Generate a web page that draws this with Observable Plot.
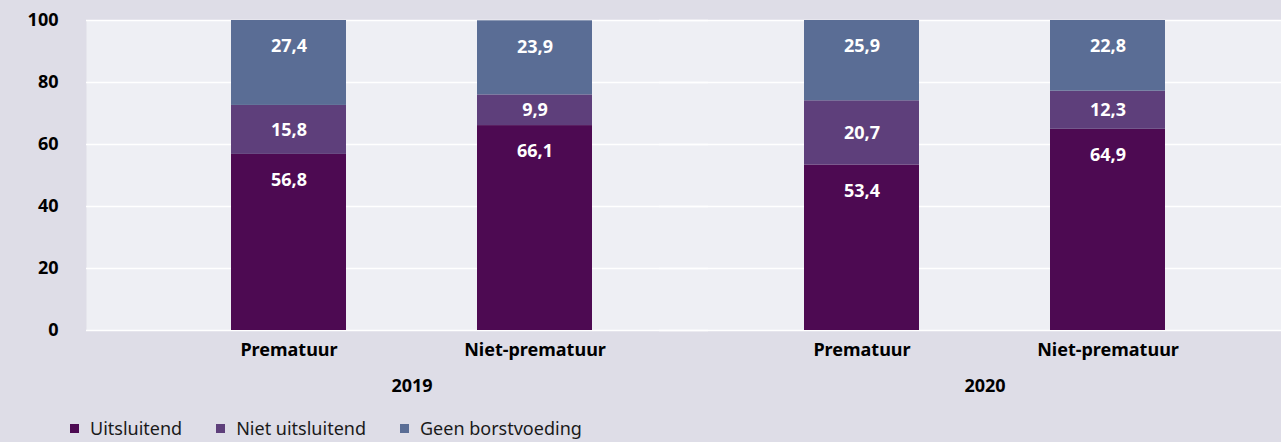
<!DOCTYPE html>
<html>
<head>
<meta charset="utf-8">
<script src="https://cdn.jsdelivr.net/npm/d3@7"></script>
<script src="https://cdn.jsdelivr.net/npm/@observablehq/plot@0.6"></script>
<style>
  html, body { margin: 0; padding: 0; background: #dedde7; }
  body { width: 1281px; height: 442px; overflow: hidden; font-family: "Noto Sans", sans-serif; }
  #legend { display: flex; align-items: center; height: 28px; padding-top: 2px; padding-left: 70px; font-size: 18px; line-height: 22px; color: #1a1a1a; box-sizing: content-box; }
  #legend .item { display: flex; align-items: center; margin-right: 34px; }
  #legend .sw { width: 9px; height: 9px; margin-right: 11px; }
</style>
</head>
<body>
<div id="chart"></div>
<div id="legend"></div>
<script>
const years = ["2019", "2020"];
const categories = ["Prematuur", "Niet-prematuur"];
const series = ["Uitsluitend", "Niet uitsluitend", "Geen borstvoeding"];
const colors = ["#4d0a52", "#5e3f7b", "#5a6d95"];
// order: 2019 Prematuur, 2019 Niet-prematuur, 2020 Prematuur, 2020 Niet-prematuur
const uitsluitend = [56.8, 66.1, 53.4, 64.9];
const nietUitsluitend = [15.8, 9.9, 20.7, 12.3];
const geenBorstvoeding = [27.4, 23.9, 25.9, 22.8];
const yTicks = [0, 20, 40, 60, 80, 100];

const seriesValues = [uitsluitend, nietUitsluitend, geenBorstvoeding];
const groups = years.flatMap(y => categories.map(c => ({year: y, cat: c})));
const data = [];
series.forEach((s, si) => {
  groups.forEach((g, gi) => data.push({year: g.year, cat: g.cat, series: s, value: seriesValues[si][gi]}));
});
const fmt = v => v.toFixed(1).replace(".", ",");
const isMid = d => d.series === "Niet uitsluitend";

const chart = Plot.plot({
  width: 1281,
  height: 412,
  marginTop: 20,
  marginBottom: 82,
  marginLeft: 84,
  marginRight: 0,
  style: {fontFamily: "Noto Sans, sans-serif", background: "transparent", overflow: "visible"},
  fx: {domain: years, paddingInner: 0, paddingOuter: 0.0427, align: 0.796, axis: null, label: null},
  x: {domain: categories, paddingInner: 0.534, paddingOuter: 0.429, axis: null, label: null},
  y: {domain: [0, 100], axis: null, label: null},
  color: {domain: series, range: colors},
  marks: [
    Plot.frame({fill: "#eeeff4", stroke: null, insetLeft: -39, insetRight: -10}),
    Plot.ruleY(yTicks, {stroke: "#ffffff", strokeWidth: 1.5, insetLeft: -39, insetRight: -10}),
    Plot.axisY({ticks: yTicks, tickSize: 0, tickPadding: 67, fontSize: 18, fontWeight: "bold", fill: "#000", label: null}),
    Plot.axisX({tickSize: 0, tickPadding: 13, fontSize: 18, fontWeight: "bold", fill: "#000", label: null}),
    Plot.axisFx({anchor: "bottom", tickSize: 0, tickPadding: 49, fontSize: 18, fontWeight: "bold", fill: "#000", label: null}),
    Plot.barY(data, {fx: "year", x: "cat", y: "value", fill: "series"}),
    Plot.text(data, Plot.stackY2({fx: "year", x: "cat", y: "value", z: "series",
      text: d => isMid(d) ? null : fmt(d.value), fill: "white", fontSize: 18, fontWeight: "bold", dy: 26})),
    Plot.text(data, Plot.stackY({fx: "year", x: "cat", y: "value", z: "series",
      text: d => isMid(d) ? fmt(d.value) : null, fill: "white", fontSize: 18, fontWeight: "bold"}))
  ]
});
document.getElementById("chart").appendChild(chart);

const legend = document.getElementById("legend");
series.forEach((s, i) => {
  const item = document.createElement("div");
  item.className = "item";
  const sw = document.createElement("span");
  sw.className = "sw";
  sw.style.background = colors[i];
  const t = document.createElement("span");
  t.textContent = s;
  item.appendChild(sw);
  item.appendChild(t);
  legend.appendChild(item);
});
</script>
</body>
</html>
